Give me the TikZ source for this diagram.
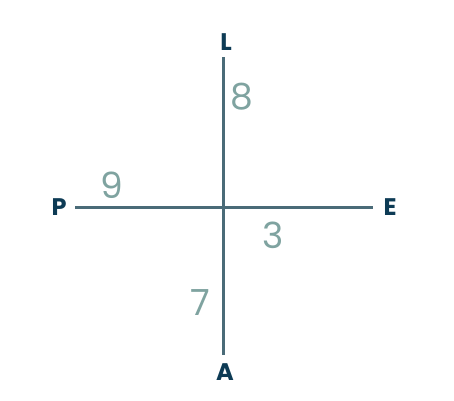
\documentclass[tikz,border=0pt]{standalone}
\usepackage{fontspec}
\setmainfont{Poppins}
\definecolor{linecol}{HTML}{4A6B78}
\definecolor{labcol}{HTML}{0D3B55}
\definecolor{numcol}{HTML}{7FA3A0}
\begin{document}
\begin{tikzpicture}[x=1pt,y=-1pt,
  axis/.style={draw=linecol,line width=3pt},
  lab/.style={text=labcol,font=\fontsize{24}{28}\selectfont\bfseries,inner sep=0pt},
  num/.style={text=numcol,font=\fontsize{36}{40}\selectfont,inner sep=0pt}]
\useasboundingbox (0,0) rectangle (454,400);
\coordinate (c) at (223,207);
\coordinate (t) at (223,57);
\coordinate (b) at (223,355);
\coordinate (l) at (75,207);
\coordinate (r) at (373,207);
\draw[axis] (t) -- (b);
\draw[axis] (l) -- (r);
\node[lab] (L) at (226,42) {L};
\node[lab] (P) at (59,207) {P};
\node[lab] (E) at (390,207) {E};
\node[lab] (A) at (225,372) {A};
\node[num] (n8) at (242,97) {8};
\node[num] (n9) at (112,185) {9};
\node[num] (n3) at (273,235) {3};
\node[num] (n7) at (200,303) {7};
\end{tikzpicture}
\end{document}
